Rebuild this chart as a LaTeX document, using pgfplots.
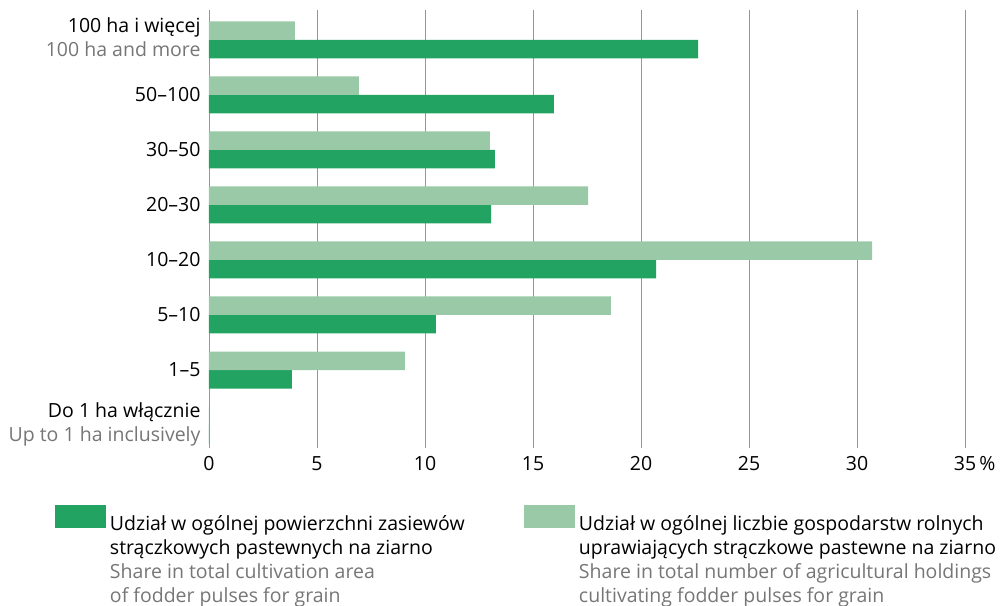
\documentclass[border=0pt]{standalone}
\usepackage{pgfplots}
\pgfplotsset{compat=1.18}
\usepackage{fontspec}
\setmainfont{Open Sans}
\definecolor{dg}{RGB}{35,163,98}
\definecolor{lg}{RGB}{154,201,168}
\definecolor{tg}{RGB}{118,118,118}
\definecolor{gl}{RGB}{150,150,150}
\newcommand{\cat}[2]{\begin{tabular}{@{}r@{}}#1\\\textcolor{tg}{#2}\end{tabular}}
\begin{document}
\begin{tikzpicture}
\useasboundingbox (-209pt,-157pt) rectangle (791pt,448pt);
\begin{axis}[
  at={(0pt,0pt)}, anchor=south west,
  scale only axis, width=756pt, height=438pt,
  xmin=0, xmax=35, ymin=-0.418, ymax=7.545,
  xtick={0,5,10,15,20,25,30,35},
  xticklabels={0,5,10,15,20,25,30,35\rlap{\,\%}},
  ytick={0,1,2,3,4,5,6,7},
  yticklabels={\cat{Do 1 ha włącznie}{Up to 1 ha inclusively},1–5,5–10,10–20,20–30,30–50,50–100,\cat{100 ha i więcej}{100 ha and more}},
  major tick length=0pt,
  axis line style={draw=none},
  xmajorgrids, grid style={gl, line width=0.9pt},
  tick label style={font=\fontsize{19.5}{24}\selectfont, text=black},
  xticklabel style={yshift=-5pt},
  yticklabel style={xshift=-5pt},
  xbar, bar width=18.5pt,
  legend columns=2,
  legend style={draw=none, fill=none, inner sep=0pt, outer sep=0pt,
    at={(-0.2037,-0.1310)}, anchor=north west,
    font=\fontsize{19.5}{24}\selectfont,
    /tikz/every odd column/.append style={column sep=2pt}},
  legend cell align=left,
]
\addplot[fill=dg, draw=none, bar shift=-9.25pt,
  legend image code/.code={\fill[dg] (0pt,-6pt) rectangle (51pt,17pt);}]
  coordinates {(0,0) (3.84,1) (10.5,2) (20.7,3) (13.06,4) (13.24,5) (15.97,6) (22.64,7)};
\addplot[fill=lg, draw=none, bar shift=9.25pt,
  legend image code/.code={\fill[lg] (0pt,-6pt) rectangle (51pt,17pt);}]
  coordinates {(0,0) (9.07,1) (18.6,2) (30.7,3) (17.55,4) (13.0,5) (6.94,6) (3.98,7)};
\legend{\makebox[412pt][l]{\begin{tabular}[t]{@{}l@{}}Udział w ogólnej powierzchni zasiewów\\strączkowych pastewnych na ziarno\\\textcolor{tg}{Share in total cultivation area}\\\textcolor{tg}{of fodder pulses for grain}\end{tabular}},
  \begin{tabular}[t]{@{}l@{}}Udział w ogólnej liczbie gospodarstw rolnych\\uprawiających strączkowe pastewne na ziarno\\\textcolor{tg}{Share in total number of agricultural holdings}\\\textcolor{tg}{cultivating fodder pulses for grain}\end{tabular}}
\end{axis}
\end{tikzpicture}
\end{document}
